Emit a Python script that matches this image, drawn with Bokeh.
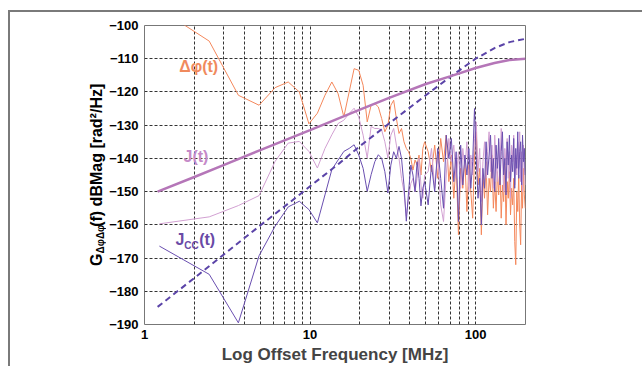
import math
from bokeh.plotting import figure
from bokeh.layouts import row
from bokeh.models import Label, FixedTicker, Range1d
from bokeh.embed import file_html
from bokeh.resources import INLINE

# ---------------- data ----------------
# sample grid of the measured spectra (MHz)
F_STEP_LO = 1.23
F_STEP_HI = 2.46
freq_lo = [round(F_STEP_LO * k, 2) for k in range(1, 41)]
freq_hi = [round(49.2 + F_STEP_HI * j, 2) for j in range(1, 62)]
freq = freq_lo + freq_hi

dphi_lo = [-95, -104.7, -121, -124, -118.7, -117, -120, -129.6, -126.4, -121,
           -117, -120.5, -127.5, -120, -113, -113.5, -118, -129, -124, -123.5,
           -124.5, -128, -132, -130, -124, -122.5, -128, -132.5, -131, -135,
           -137, -138, -140, -143.5, -140.5, -142, -139, -145, -137, -135]
dphi_hi = [-138, -144, -136, -146, -134, -141, -133, -147, -139, -152,
           -141, -163, -143, -149, -140, -156, -142, -150, -158, -139,
           -132, -148, -143, -163, -145, -152, -141, -157, -146, -150,
           -139, -155, -147, -156, -144, -151, -142, -158, -148, -153,
           -141, -160, -147, -152, -144, -157, -149, -154, -146, -165,
           -172, -150, -156, -145, -160, -166, -148, -155, -143, -151,
           -155]

j_lo = [-159.7, -157.6, -154.2, -151.2, -140.9, -135.4, -134.9, -137.9, -142.9, -137,
        -132.9, -129.5, -128.5, -126.5, -124.9, -127.5, -133, -139.9, -130.4, -131,
        -131, -131.5, -135, -139.9, -133, -131, -136, -140, -146, -150,
        -157.4, -152, -147.6, -146, -150, -146, -140, -148, -152, -145]
j_hi = [-144, -137, -149, -139, -154, -159, -145, -134, -141, -136,
        -146, -138, -149, -137, -143, -135, -150, -139, -145, -134,
        -129, -144, -137, -153, -141, -135, -146, -138, -132, -144,
        -136, -149, -133, -141, -147, -135, -143, -131, -139, -150,
        -137, -142, -134, -146, -138, -152, -136, -141, -133, -148,
        -139, -145, -135, -143, -132, -147, -138, -150, -136, -142,
        -148]

jcc_lo = [-166.4, -174.9, -189.5, -169.3, -160.4, -154.6, -152.9, -155.4, -159.4, -151,
          -143.4, -140.5, -137.9, -137, -135.9, -139, -143, -149.9, -144.9, -141,
          -138.9, -140, -144, -150.4, -142, -138, -140, -136.4, -140, -148,
          -158.9, -150, -142, -145, -150, -141, -146, -154.3, -149, -147]
jcc_hi = [-154, -142, -150, -137, -146, -155, -133, -140, -134, -147,
          -138, -159, -136, -148, -139, -145, -137, -149, -141, -125,
          -140, -152, -146, -160, -143, -149, -135, -145, -139, -133,
          -146, -140, -150, -136, -143, -134, -148, -138, -132, -145,
          -140, -151, -135, -142, -133, -147, -139, -144, -134, -149,
          -137, -143, -132, -146, -138, -135, -148, -133, -141, -137,
          -145]

dphi = dphi_lo + dphi_hi
j_thin = j_lo + j_hi
jcc_thin = jcc_lo + jcc_hi

# smooth (averaged) spectra
f_j_avg = [1.2, 2, 3, 5, 10, 20, 30, 50, 70, 100, 130, 160, 200]
j_avg = [-150, -145.6, -142, -137.5, -131.5, -125.3, -121.8, -117.6, -115.3, -112.8, -111.3, -110.4, -110]
f_jcc_avg = [1.2, 2, 3, 5, 7, 10, 15, 20, 30, 50, 70, 100, 130, 160, 200]
jcc_avg = [-184.7, -176, -169, -160.2, -154.5, -148.4, -141.5, -136.3, -129.5, -121, -115.5, -110, -106.8, -105, -104]

x_ticks = [1, 10, 100]
x_tick_labels = ["1", "10", "100"]
x_minor = [2, 3, 4, 5, 6, 7, 8, 9, 20, 30, 40, 50, 60, 70, 80, 90, 200]
y_ticks = [-190, -180, -170, -160, -150, -140, -130, -120, -110, -100]

FONT = "Liberation Sans"
FRAME_GRAY = "#7a7a7a"

# page geometry (pixels)
W, H = 642, 366
OFF_X, OFF_Y = 10, 12          # outer frame line (8/10) + its 2px width
LEFT_W = 96                    # strip that carries the rotated y title
BORDER_TOP = 25 - OFF_Y
BORDER_BOTTOM = 40

y_range = Range1d(-190, -100)

def add_label(fig, x, y, text, color, size="16px", angle=0.0,
              baseline="middle", align="left"):
    fig.add_layout(Label(x=x, y=y, text=text, angle=angle, text_color=color,
                         text_font=FONT, text_font_style="bold", text_font_size=size,
                         text_baseline=baseline, text_align=align))

# ---------------- left strip: rotated y-axis title with subscript ----------------
pl = figure(width=LEFT_W, height=H - OFF_Y, x_range=Range1d(OFF_X, OFF_X + LEFT_W),
            y_range=y_range, output_backend="svg", toolbar_location=None,
            x_axis_location=None, y_axis_location=None,
            min_border_left=0, min_border_right=0,
            min_border_top=BORDER_TOP, min_border_bottom=BORDER_BOTTOM)
pl.grid.visible = False
pl.outline_line_color = None
pl.background_fill_color = "white"
pl.border_fill_color = "white"

half_pi = math.pi / 2
add_label(pl, 96, -172.4, "G", "black", angle=half_pi, baseline="alphabetic")
add_label(pl, 100, -168.6, "\u0394\u03c6\u0394\u03c6", "black", size="10px",
          angle=half_pi, baseline="alphabetic")
add_label(pl, 96, -160.6, "(f) dBMag [rad\u00b2/Hz]", "black",
          angle=half_pi, baseline="alphabetic")

# ---------------- main figure ----------------
p = figure(width=W - OFF_X - LEFT_W, height=H - OFF_Y, x_axis_type="log",
           x_range=Range1d(1, 200), y_range=y_range,
           output_backend="svg", toolbar_location=None,
           min_border_left=142 - OFF_X - LEFT_W, min_border_right=117,
           min_border_top=BORDER_TOP, min_border_bottom=BORDER_BOTTOM)
p.background_fill_color = "white"
p.border_fill_color = "white"
p.outline_line_color = "#777777"
p.outline_line_width = 1

for ax in (p.xaxis, p.yaxis):
    ax.axis_line_color = None
    ax.major_tick_line_color = None
    ax.minor_tick_line_color = None
    ax.major_tick_out = 0
    ax.major_tick_in = 0
    ax.minor_tick_out = 0
    ax.minor_tick_in = 0
    ax.major_label_text_font = FONT
    ax.major_label_text_font_style = "bold"
    ax.major_label_text_font_size = "13px"
    ax.major_label_text_color = "black"

p.xaxis.ticker = FixedTicker(ticks=x_ticks, minor_ticks=x_minor)
p.xaxis.major_label_overrides = {t: s for t, s in zip(x_ticks, x_tick_labels)}
p.xaxis.major_label_standoff = 5
p.xaxis.axis_label = "Log Offset Frequency [MHz]"
p.xaxis.axis_label_text_font = FONT
p.xaxis.axis_label_text_font_style = "bold"
p.xaxis.axis_label_text_font_size = "17px"
p.xaxis.axis_label_standoff = 3

p.yaxis.ticker = FixedTicker(ticks=y_ticks)
p.yaxis.major_label_standoff = 6

for g in (p.xgrid, p.ygrid):
    g.grid_line_color = "#333333"
    g.grid_line_dash = "3 2"
    g.grid_line_width = 1
p.xgrid.minor_grid_line_color = "#333333"
p.xgrid.minor_grid_line_dash = "3 2"
p.xgrid.minor_grid_line_width = 1

# ---------------- series ----------------
p.line(freq, dphi, line_color="#f4885c", line_width=1)
p.line(freq, j_thin, line_color="#d2a0d2", line_width=1)
p.line(freq, jcc_thin, line_color="#6a4fb0", line_width=1)
p.line(f_jcc_avg, jcc_avg, line_color="#5b44a8", line_width=2, line_dash="6 4")
p.line(f_j_avg, j_avg, line_color="#b576b8", line_width=2.5)

# ---------------- in-plot labels ----------------
add_label(p, 1.62, -112.3, "\u0394\u03c6(t)", "#f08a5d")
add_label(p, 1.72, -139.5, "J(t)", "#c58ac8")
add_label(p, 1.54, -164.4, "J", "#6a4aa6")
add_label(p, 1.74, -166.2, "CC", "#6a4aa6", size="10px")
add_label(p, 2.14, -164.4, "(t)", "#6a4aa6")

layout = row(pl, p, spacing=0,
             styles={"margin-left": "8px", "margin-top": "10px",
                     "border-left": "2px solid " + FRAME_GRAY,
                     "border-top": "2px solid " + FRAME_GRAY})
open("out.html", "w").write(file_html(layout, INLINE))
